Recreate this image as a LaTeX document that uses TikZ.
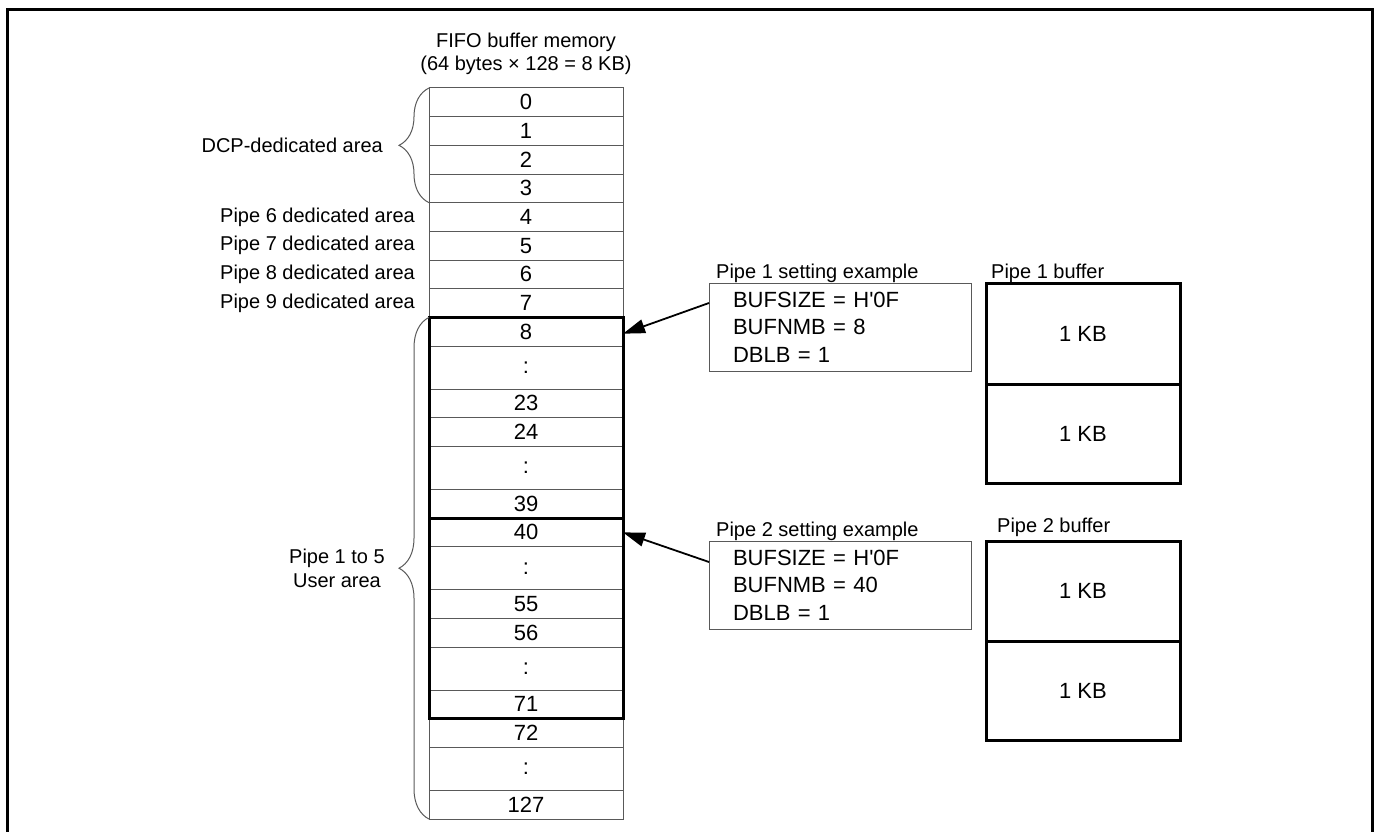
\documentclass[tikz,border=0pt]{standalone}
\usepackage{fontspec}
\setmainfont{Liberation Sans}
\usetikzlibrary{arrows.meta,decorations.pathreplacing,calc}
\begin{document}
\begin{tikzpicture}[x=1pt,y=-1pt,
  every node/.style={font=\fontsize{20}{24}\selectfont, inner sep=0pt},
  cell/.style={draw=black!65, line width=1pt, minimum width=194pt, minimum height=28.67pt, anchor=north, inner sep=0pt, outer sep=0pt, font=\fontsize{22}{26}\selectfont},
  dotcell/.style={cell, minimum height=43pt},
  thickbox/.style={draw=black, line width=3pt},
  brc/.style={draw=black!65, line width=1pt, decorate, decoration={brace, amplitude=30pt}},
  lbl/.style={anchor=east},
  setbox/.style={draw=black!65, line width=1pt, minimum width=262pt, minimum height=88pt, text width=214pt, inner xsep=24pt, inner ysep=0pt, outer sep=0pt, align=left, anchor=north west, font=\fontsize{22}{27.5}\selectfont},
  bufbox/.style={draw=black, line width=3pt, minimum width=194pt, outer sep=0pt, font=\fontsize{22}{26}\selectfont},
  arr/.style={draw=black, line width=1.8pt, -{Triangle[length=22pt,width=14pt]}},
  frame/.style={draw=black, line width=3pt}
]
% outer frame
\draw[frame] (7,832) -- (7,9.3) -- (1372.5,9.3) -- (1372.5,832);

% header
\node[align=center, font=\fontsize{20}{23}\selectfont] (hdr) at (526,54) {FIFO buffer memory\\(64 bytes × 128 = 8 KB)};

% memory column
\node[cell] (r0) at (526,88) {0};
\node[cell] (r1) at (r0.south) {1};
\node[cell] (r2) at (r1.south) {2};
\node[cell] (r3) at (r2.south) {3};
\node[cell] (r4) at (r3.south) {4};
\node[cell] (r5) at (r4.south) {5};
\node[cell] (r6) at (r5.south) {6};
\node[cell] (r7) at (r6.south) {7};
\node[cell] (r8) at (r7.south) {8};
\node[dotcell] (r9) at (r8.south) {:};
\node[cell] (r10) at (r9.south) {23};
\node[cell] (r11) at (r10.south) {24};
\node[dotcell] (r12) at (r11.south) {:};
\node[cell] (r13) at (r12.south) {39};
\node[cell] (r14) at (r13.south) {40};
\node[dotcell] (r15) at (r14.south) {:};
\node[cell] (r16) at (r15.south) {55};
\node[cell] (r17) at (r16.south) {56};
\node[dotcell] (r18) at (r17.south) {:};
\node[cell] (r19) at (r18.south) {71};
\node[cell] (r20) at (r19.south) {72};
\node[dotcell] (r21) at (r20.south) {:};
\node[cell] (r22) at (r21.south) {127};

% thick pipe boxes
\draw[thickbox] (r8.north west) rectangle (r13.south east);
\draw[thickbox] (r14.north west) rectangle (r19.south east);

% braces
\draw[brc] (r3.south west) -- (r0.north west);
\draw[brc] (r22.south west) -- (r8.north west);
\coordinate (t1) at ($(r0.north west)!0.5!(r3.south west)+(-30,0)$);
\coordinate (t2) at ($(r8.north west)!0.5!(r22.south west)+(-30,0)$);
\node[lbl] (dcp) at ($(t1)+(-16,0)$) {DCP-dedicated area};
\node[lbl, align=center, font=\fontsize{20}{24}\selectfont] (user) at ($(t2)+(-14,0)$) {Pipe 1 to 5\\User area};

% dedicated area labels
\node[lbl] (p6) at ([xshift=-14pt]r4.west) {Pipe 6 dedicated area};
\node[lbl] (p7) at ([xshift=-14pt]r5.west) {Pipe 7 dedicated area};
\node[lbl] (p8) at ([xshift=-14pt]r6.west) {Pipe 8 dedicated area};
\node[lbl] (p9) at ([xshift=-14pt]r7.west) {Pipe 9 dedicated area};

% setting examples
\node[setbox] (s1) at (709,283) {BUFSIZE = H\textquotesingle 0F\\BUFNMB = 8\\DBLB = 1};
\node[anchor=base west] (s1l) at ([xshift=7pt,yshift=5pt]s1.north west) {Pipe 1 setting example};
\node[setbox] (s2) at (709,541) {BUFSIZE = H\textquotesingle 0F\\BUFNMB = 40\\DBLB = 1};
\node[anchor=base west] (s2l) at ([xshift=7pt,yshift=5pt]s2.north west) {Pipe 2 setting example};

\draw[arr] ([yshift=-20pt]s1.north west) -- ([yshift=-2pt]r8.east);
\draw[arr] ([yshift=-21pt]s2.north west) -- (r14.east);

% buffers
\node[bufbox, anchor=north west, minimum height=101pt] (b1a) at (986,283) {1 KB};
\node[bufbox, anchor=north, minimum height=99pt] (b1b) at (b1a.south) {1 KB};
\node[anchor=base west] (b1l) at ([xshift=5pt,yshift=5pt]b1a.north west) {Pipe 1 buffer};
\node[bufbox, anchor=north west, minimum height=100pt] (b2a) at (986,541) {1 KB};
\node[bufbox, anchor=north, minimum height=99pt] (b2b) at (b2a.south) {1 KB};
\node[anchor=base west] (b2l) at ([xshift=11pt,yshift=9pt]b2a.north west) {Pipe 2 buffer};

\pgfresetboundingbox
\useasboundingbox (0,0) rectangle (1374,832);
\end{tikzpicture}
\end{document}
